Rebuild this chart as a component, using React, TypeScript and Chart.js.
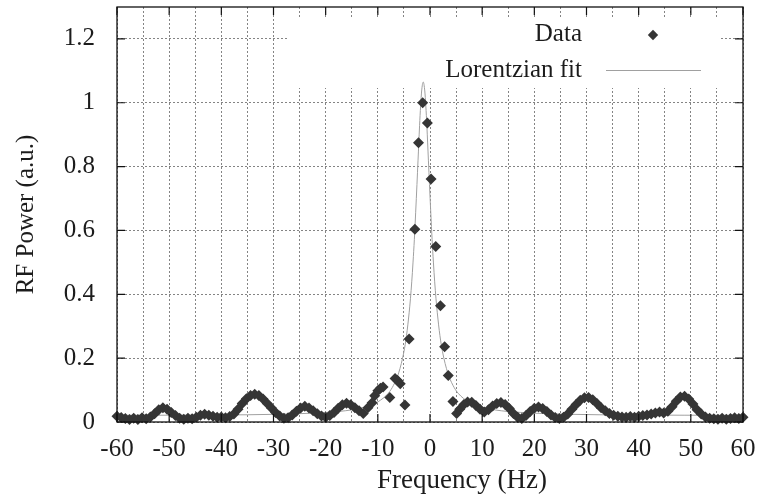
import React, { useEffect, useRef } from "react";
import { Chart, registerables } from "chart.js";

Chart.register(...registerables);

const FONT = "'Liberation Serif', 'Times New Roman', serif";

// Measured data points (frequency in Hz, RF power in a.u.)
const dataFreq: number[] = [
  -60, -59.2, -58.4, -57.6, -56.8, -56, -55.2, -54.4, -53.6, -52.8, -52, -51.2, -50.4, -49.6, -48.8, -48,
  -47.2, -46.4, -45.6, -44.8, -44, -43.2, -42.4, -41.6, -40.8, -40, -39.2, -38.4, -37.6, -36.8, -36, -35.2,
  -34.4, -33.6, -32.8, -32, -31.2, -30.4, -29.6, -28.8, -28, -27.2, -26.4, -25.6, -24.8, -24, -23.2, -22.4,
  -21.6, -20.8, -20, -19.2, -18.4, -17.6, -16.8, -16, -15.2, -14.4, -13.6,
  -12.8, -11.9, -11.1, -10.6, -10.0, -9.5, -9.0, -7.7, -6.7, -6.2, -5.7, -4.8, -4.0, -2.9, -2.2, -1.4,
  -0.5, 0.2, 1.1, 2.0, 2.8, 3.5, 4.4, 5.1, 5.7, 6.5, 7.2, 8.0, 8.8,
  9.6, 10.4, 11.2, 12, 12.8, 13.6, 14.4, 15.2, 16, 16.8, 17.6, 18.4, 19.2, 20, 20.8, 21.6, 22.4, 23.2, 24,
  24.8, 25.6, 26.4, 27.2, 28, 28.8, 29.6, 30.4, 31.2, 32, 32.8, 33.6, 34.4, 35.2, 36, 36.8, 37.6, 38.4, 39.2,
  40, 40.8, 41.6, 42.4, 43.2, 44, 44.8, 45.6, 46.4, 47.2, 48, 48.8, 49.6, 50.4, 51.2, 52, 52.8, 53.6, 54.4,
  55.2, 56, 56.8, 57.6, 58.4, 59.2, 60,
];

const dataPower: number[] = [
  0.018, 0.014, 0.011, 0.008, 0.012, 0.008, 0.013, 0.01, 0.016, 0.026, 0.038, 0.045, 0.04, 0.03, 0.02, 0.012,
  0.009, 0.012, 0.01, 0.015, 0.021, 0.024, 0.021, 0.018, 0.015, 0.016, 0.013, 0.017, 0.025, 0.04, 0.058, 0.073,
  0.083, 0.087, 0.083, 0.072, 0.058, 0.044, 0.03, 0.019, 0.012, 0.013, 0.022, 0.034, 0.044, 0.049, 0.044, 0.035,
  0.026, 0.019, 0.015, 0.02, 0.03, 0.043, 0.054, 0.059, 0.054, 0.045, 0.035,
  0.027, 0.045, 0.06, 0.082, 0.098, 0.106, 0.11, 0.077, 0.136, 0.13, 0.12, 0.053, 0.26, 0.604, 0.875, 1.0,
  0.937, 0.761, 0.55, 0.364, 0.236, 0.146, 0.064, 0.027, 0.04, 0.055, 0.063, 0.062, 0.052,
  0.04, 0.031, 0.038, 0.05, 0.058, 0.061, 0.055, 0.042, 0.027, 0.015, 0.011, 0.02, 0.033, 0.043, 0.047, 0.042, 0.033, 0.022, 0.014,
  0.011, 0.015, 0.025, 0.04, 0.055, 0.068, 0.076, 0.077, 0.07, 0.058, 0.045, 0.035, 0.027, 0.021, 0.018, 0.016, 0.015, 0.017, 0.015,
  0.018, 0.02, 0.022, 0.025, 0.028, 0.031, 0.028, 0.034, 0.048, 0.065, 0.078, 0.081, 0.072, 0.056, 0.038, 0.025, 0.016, 0.012, 0.01,
  0.009, 0.012, 0.009, 0.011, 0.013, 0.011, 0.015,
];

// Lorentzian fit curve
const fitFreq: number[] = [
  -60, -40, -30, -20, -15, -12, -10, -8, -7, -6, -5, -4.5, -4, -3.75, -3.5, -3.25, -3, -2.5, -2.3, -2, -1.8,
  -1.6, -1.3, -1.0, -0.8, -0.6, -0.3, -0.1, 0.4, 0.65, 0.9, 1.15, 1.4, 1.9, 2.4, 3.4, 4.4, 5.4, 7.4, 9.4,
  12.4, 17.4, 27.4, 37.4, 60,
];
const fitPower: number[] = [
  0.021, 0.022, 0.024, 0.03, 0.038, 0.049, 0.063, 0.09, 0.115, 0.154, 0.22, 0.271, 0.342, 0.386, 0.439,
  0.501, 0.572, 0.744, 0.818, 0.928, 0.99, 1.037, 1.065, 1.037, 0.99, 0.928, 0.818, 0.744, 0.572, 0.501,
  0.439, 0.386, 0.342, 0.271, 0.22, 0.154, 0.115, 0.09, 0.063, 0.049, 0.038, 0.03, 0.024, 0.022, 0.021,
];

const xTitle = "Frequency (Hz)";
const yTitle = "RF Power (a.u.)";
const legendLabels = ["Data", "Lorentzian fit"];

const DATA_COLOR = "#353535";
const FIT_COLOR = "#a0a0a0";
const GRID_COLOR = "rgba(110,110,110,0.85)";
const TEXT_COLOR = "#1c1c1c";

function drawDiamond(ctx: CanvasRenderingContext2D, x: number, y: number, r: number) {
  ctx.beginPath();
  ctx.moveTo(x, y - r);
  ctx.lineTo(x + r, y);
  ctx.lineTo(x, y + r);
  ctx.lineTo(x - r, y);
  ctx.closePath();
  ctx.fill();
}

const decorPlugin = {
  id: "gnuplotDecor",
  beforeDatasetsDraw(chart: any) {
    const { ctx, chartArea } = chart;
    ctx.save();
    ctx.fillStyle = "#ffffff";
    ctx.fillRect(chartArea.left + 170, chartArea.top + 10, 433, 71);
    ctx.restore();
  },
  afterDatasetsDraw(chart: any) {
    const { ctx, chartArea } = chart;
    const { left, right, top, bottom } = chartArea;
    const xs = chart.scales.x;
    const ys = chart.scales.y;
    ctx.save();
    // frame
    ctx.strokeStyle = "#111";
    ctx.lineWidth = 1.3;
    ctx.strokeRect(left, top, right - left, bottom - top);
    // inward tick marks
    ctx.lineWidth = 1.2;
    ctx.beginPath();
    xs.ticks.forEach((t: any) => {
      if (t.value % 10 !== 0) return;
      const px = xs.getPixelForValue(t.value);
      ctx.moveTo(px, bottom);
      ctx.lineTo(px, bottom - 8);
      ctx.moveTo(px, top);
      ctx.lineTo(px, top + 8);
    });
    ys.ticks.forEach((t: any) => {
      const py = ys.getPixelForValue(t.value);
      ctx.moveTo(left, py);
      ctx.lineTo(left + 8, py);
      ctx.moveTo(right, py);
      ctx.lineTo(right - 8, py);
    });
    ctx.stroke();

    // legend
    ctx.fillStyle = TEXT_COLOR;
    ctx.font = `25px ${FONT}`;
    ctx.textAlign = "right";
    ctx.textBaseline = "middle";
    const lx = left + 465;
    ctx.fillText(legendLabels[0], lx, top + 27);
    ctx.fillText(legendLabels[1], lx, top + 63);
    ctx.fillStyle = DATA_COLOR;
    drawDiamond(ctx, left + 536, top + 28, 5.2);
    ctx.strokeStyle = FIT_COLOR;
    ctx.lineWidth = 1;
    ctx.beginPath();
    ctx.moveTo(left + 489, top + 63.5);
    ctx.lineTo(left + 584, top + 63.5);
    ctx.stroke();

    // x axis title
    ctx.fillStyle = TEXT_COLOR;
    ctx.font = `27px ${FONT}`;
    ctx.textAlign = "center";
    ctx.textBaseline = "middle";
    ctx.fillText(xTitle, (left + right) / 2 + 32, bottom + 59);
    ctx.restore();
  },
};

export default function App() {
  const ref = useRef<HTMLCanvasElement>(null);
  useEffect(() => {
    if (!ref.current) return;
    const chart = new Chart(ref.current, {
      type: "scatter",
      data: {
        datasets: [
          {
            label: legendLabels[0],
            data: dataFreq.map((f, i) => ({ x: f, y: dataPower[i] })),
            pointStyle: "rectRot",
            pointRadius: 5.5,
            pointBackgroundColor: DATA_COLOR,
            pointBorderColor: DATA_COLOR,
            pointBorderWidth: 0,
            showLine: false,
            clip: false as any,
          },
          {
            label: legendLabels[1],
            data: fitFreq.map((f, i) => ({ x: f, y: fitPower[i] })),
            showLine: true,
            pointRadius: 0,
            borderColor: FIT_COLOR,
            borderWidth: 1,
            cubicInterpolationMode: "monotone",
            clip: false as any,
          } as any,
        ],
      },
      options: {
        animation: false,
        responsive: false,
        devicePixelRatio: 1,
        layout: { padding: { top: 7, right: 18, left: 0, bottom: 0 } },
        plugins: {
          legend: { display: false },
          tooltip: { enabled: false },
        },
        scales: {
          x: {
            type: "linear",
            min: -60,
            max: 60,
            ticks: {
              stepSize: 5,
              autoSkip: false,
              maxRotation: 0,
              padding: 12,
              color: TEXT_COLOR,
              font: { family: FONT, size: 25 },
              callback: (v: any) => (Number(v) % 10 === 0 ? String(v) : ""),
            },
            grid: { color: GRID_COLOR, lineWidth: 1, drawTicks: false },
            border: { display: false, dash: [2, 2] },
            afterFit: (s: any) => {
              s.height = 77;
              s.paddingLeft = 0;
              s.paddingRight = 0;
            },
          },
          y: {
            type: "linear",
            min: 0,
            max: 1.3,
            ticks: {
              stepSize: 0.2,
              padding: 22,
              color: TEXT_COLOR,
              font: { family: FONT, size: 25 },
              callback: (v: any) => String(Math.round(Number(v) * 10) / 10),
            },
            afterBuildTicks: (s: any) => {
              s.ticks = s.ticks.filter(
                (t: any) => Math.abs(t.value * 5 - Math.round(t.value * 5)) < 1e-6
              );
            },
            grid: { color: GRID_COLOR, lineWidth: 1, drawTicks: false },
            border: { display: false, dash: [2, 2] },
            title: {
              display: true,
              text: yTitle,
              color: TEXT_COLOR,
              font: { family: FONT, size: 25 },
              padding: { top: 11, bottom: 0 },
            },
            afterFit: (s: any) => {
              s.width = 117;
              s.paddingTop = 0;
              s.paddingBottom = 0;
            },
          },
        },
      },
      plugins: [decorPlugin],
    });
    return () => chart.destroy();
  }, []);

  return (
    <div style={{ position: "fixed", left: 0, top: 0, width: 761, height: 499, background: "#fff" }}>
      <canvas ref={ref} width={761} height={499} style={{ display: "block" }} />
    </div>
  );
}
